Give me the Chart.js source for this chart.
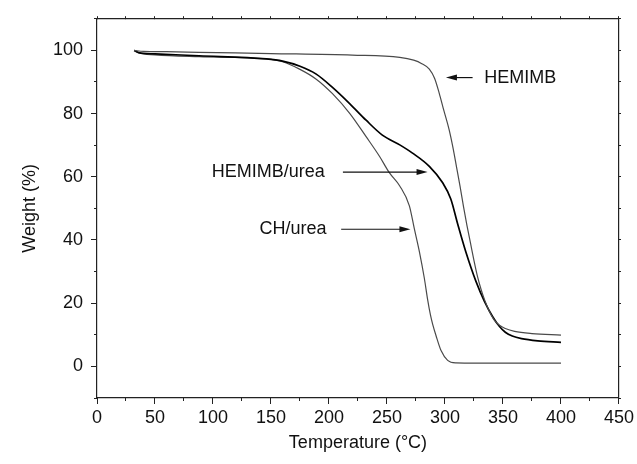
<!DOCTYPE html>
<html>
<head>
<meta charset="utf-8">
<script src="https://cdn.jsdelivr.net/npm/chart.js@4.4.1/dist/chart.umd.min.js"></script>
<style>
  html, body { margin: 0; padding: 0; background: #fff; }
  #wrap { width: 637px; height: 464px; }
</style>
</head>
<body>
<div id="wrap"><canvas id="tgaChart" width="637" height="464"></canvas></div>
<script>
// TGA curves
var hemimbT = [32, 40, 60, 88, 150, 220, 261, 273, 280, 286.5, 291, 295, 299, 303.5, 307, 310, 313, 316, 319, 322, 325, 328, 331, 334, 338, 342, 347, 352, 360, 375, 400];
var hemimbW = [100, 99.7, 99.6, 99.4, 99.0, 98.5, 97.8, 96.9, 95.8, 94.1, 91.2, 86.5, 81, 75, 69, 63, 57, 50.5, 44.5, 39, 33.5, 28.5, 24.5, 21.2, 17.6, 14.9, 13.0, 12.0, 11.1, 10.4, 9.9];

var hemUreaT = [32, 36, 50, 88, 146, 160, 175, 189, 203, 218, 232, 246, 261, 272, 286.5, 298, 305, 311, 318, 326.7, 334, 341, 347, 352, 358, 366, 380, 400];
var hemUreaW = [100, 99.3, 98.9, 98.3, 97.3, 96.6, 95.0, 92.5, 88.3, 83.1, 77.9, 73.2, 70.1, 67.5, 63.3, 58.1, 53.0, 45.0, 36.2, 26.9, 20.6, 15.8, 12.6, 10.8, 9.6, 8.8, 8.1, 7.6];

var chUreaT = [32, 36, 50, 88, 146, 160, 175, 189, 203, 218, 232, 243.5, 252, 261, 269.3, 273.6, 278, 282.2, 285, 287.5, 289.4, 292.3, 296.6, 302.3, 309.5, 320, 400];
var chUreaW = [100, 99.2, 98.6, 98.0, 97.3, 96.4, 94.0, 90.9, 86.3, 80.0, 72.7, 66.5, 61.3, 57.1, 50.8, 43.5, 36.2, 27.9, 21.2, 16.2, 13.3, 9.7, 5.0, 1.9, 1.1, 1.05, 1.05];

// axis ticks
var yMajorTicks = [0, 20, 40, 60, 80, 100];

// annotation labels and arrows (data units)
var noteText  = ['HEMIMB', 'HEMIMB/urea', 'CH/urea'];
var noteTextX = [333.8, 99, 140];
var noteY     = [91.4, 61.5, 43.4];
var arrowFrom = [323.8, 212, 210.5];
var arrowTo   = [300.8, 285, 270.2];

var FONT = '"Liberation Sans", Arial, Helvetica, sans-serif';

function pts(xs, ys) {
    return xs.map(function(x, i) { return {x: x, y: ys[i]}; });
}

var notesPlugin = {
    id: 'notes',
    afterDatasetsDraw: function(chart) {
        var ctx = chart.ctx;
        var sx = chart.scales.x, sy = chart.scales.y;
        ctx.save();
        ctx.fillStyle = '#111';
        ctx.strokeStyle = '#111';
        ctx.lineWidth = 1.2;
        ctx.font = '18px ' + FONT;
        ctx.textBaseline = 'middle';
        ctx.textAlign = 'left';
        noteText.forEach(function(t, i) {
            var y = sy.getPixelForValue(noteY[i]);
            ctx.fillText(t, sx.getPixelForValue(noteTextX[i]), y);
            var x1 = sx.getPixelForValue(arrowFrom[i]);
            var x2 = sx.getPixelForValue(arrowTo[i]);
            var dir = x2 > x1 ? 1 : -1;
            ctx.beginPath();
            ctx.moveTo(x1, y);
            ctx.lineTo(x2 - dir * 8, y);
            ctx.stroke();
            ctx.beginPath();
            ctx.moveTo(x2, y);
            ctx.lineTo(x2 - dir * 11, y - 3);
            ctx.lineTo(x2 - dir * 11, y + 3);
            ctx.closePath();
            ctx.fill();
        });
        ctx.restore();
    }
};

var ctx = document.getElementById('tgaChart').getContext('2d');
var tgaChart = new Chart(ctx, {
    type: 'line',
    data: {
        datasets: [{
            label: 'HEMIMB',
            data: pts(hemimbT, hemimbW),
            borderColor: '#4a4a4a',
            borderWidth: 1.2
        }, {
            label: 'HEMIMB/urea',
            data: pts(hemUreaT, hemUreaW),
            borderColor: '#000',
            borderWidth: 1.7
        }, {
            label: 'CH/urea',
            data: pts(chUreaT, chUreaW),
            borderColor: '#4a4a4a',
            borderWidth: 1.2
        }]
    },
    options: {
        responsive: false,
        animation: false,
        layout: { padding: { top: 14, right: 17, left: 0, bottom: 0 } },
        elements: {
            point: { radius: 0 },
            line: { cubicInterpolationMode: 'monotone', fill: false }
        },
        plugins: { legend: { display: false }, tooltip: { enabled: false } },
        scales: {
            x: {
                type: 'linear', position: 'bottom', min: 0, max: 450,
                ticks: { stepSize: 50, color: '#111', padding: 3, maxRotation: 0, font: { family: FONT, size: 18 } },
                grid: { drawOnChartArea: false, tickLength: 6, tickColor: '#222' },
                border: { color: '#222', width: 1.2 },
                title: { display: true, text: 'Temperature (°C)', color: '#111', font: { family: FONT, size: 18 }, padding: { top: 4, bottom: 10 } },
                afterFit: function(s) { s.height = 66; }
            },
            xMinor: {
                type: 'linear', position: { y: -10 }, min: 0, max: 450,
                ticks: { stepSize: 25, display: false },
                grid: { drawOnChartArea: false, tickLength: 3, tickColor: '#222' },
                border: { display: false },
                afterFit: function(s) { s.height = 0; }
            },
            xTop: {
                type: 'linear', position: { y: 110 }, min: 0, max: 450,
                ticks: { stepSize: 25, display: false },
                grid: { drawOnChartArea: false, tickLength: -3, tickColor: '#222' },
                border: { color: '#222', width: 1.2 },
                afterFit: function(s) { s.height = 0; }
            },
            y: {
                type: 'linear', position: 'left', min: -10, max: 110,
                afterBuildTicks: function(s) {
                    s.ticks = yMajorTicks.map(function(v) { return { value: v }; });
                },
                ticks: { color: '#111', padding: 8, font: { family: FONT, size: 18 } },
                grid: { drawOnChartArea: false, tickLength: 6, tickColor: '#222' },
                border: { color: '#222', width: 1.2 },
                title: { display: true, text: 'Weight (%)', color: '#111', font: { family: FONT, size: 18 }, padding: { top: 19, bottom: 4 } },
                afterFit: function(s) { s.width = 97; }
            },
            yMinor: {
                type: 'linear', position: { x: 0 }, min: -10, max: 110,
                ticks: { stepSize: 10, display: false },
                grid: { drawOnChartArea: false, tickLength: 3, tickColor: '#222' },
                border: { display: false },
                afterFit: function(s) { s.width = 0; }
            },
            yRight: {
                type: 'linear', position: { x: 450 }, min: -10, max: 110,
                ticks: { stepSize: 10, display: false },
                grid: { drawOnChartArea: false, tickLength: -3, tickColor: '#222' },
                border: { color: '#222', width: 1.2 },
                afterFit: function(s) { s.width = 0; }
            }
        }
    },
    plugins: [notesPlugin]
});
</script>
</body>
</html>
